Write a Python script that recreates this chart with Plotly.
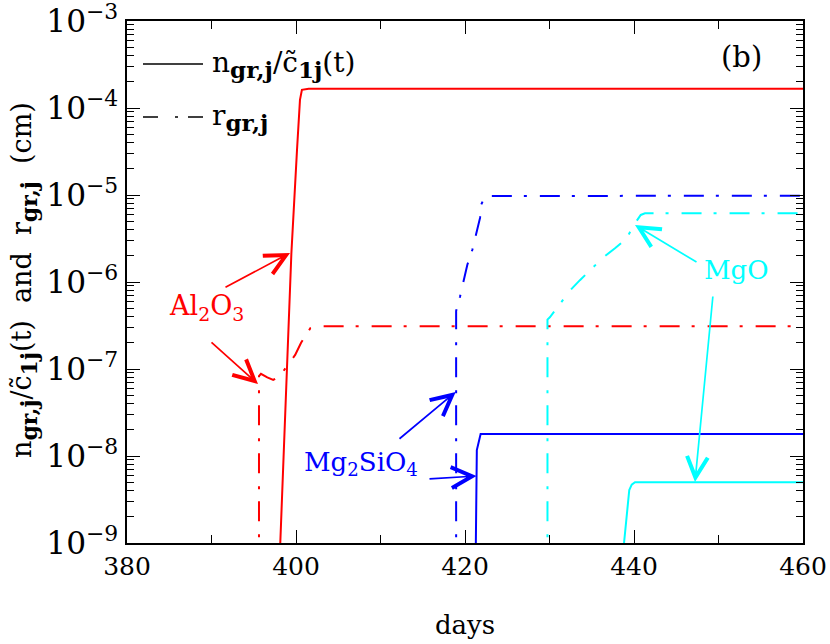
import plotly.graph_objects as go

# ---------------- data ----------------
al_n_days = [398.14, 399.45, 400.12, 400.47, 400.70, 401.5, 460.0]
al_n_vals = [1.0e-9, 2.1e-6, 3.3e-5, 1.24e-4, 1.62e-4, 1.66e-4, 1.66e-4]

al_r_days = [395.62, 395.62, 395.85, 396.6, 397.3, 398.1, 398.9, 399.9, 400.6, 401.7, 402.4, 460.0]
al_r_vals = [5e-10, 8.3e-8, 8.8e-8, 8.0e-8, 7.5e-8, 8.3e-8, 1.07e-7, 1.45e-7, 2.0e-7, 2.95e-7, 3.1e-7, 3.1e-7]

mg2_n_days = [421.25, 421.40, 421.85, 460.0]
mg2_n_vals = [5e-10, 1.17e-8, 1.79e-8, 1.79e-8]

mg2_r_days = [418.95, 418.95, 419.41, 419.88, 420.27, 420.86, 421.38, 421.78, 421.90, 422.37, 460.0]
mg2_r_vals = [5e-10, 4.65e-7, 6.78e-7, 1.11e-6, 1.57e-6, 2.33e-6, 3.66e-6, 5.45e-6, 7.67e-6, 9.75e-6, 9.8e-6]

mgo_n_days = [438.82, 439.44, 439.73, 440.12, 460.0]
mgo_n_vals = [1.0e-9, 4.07e-9, 4.68e-9, 5.0e-9, 5.0e-9]

mgo_r_days = [429.76, 429.76, 430.04, 431.15, 432.5, 433.6, 434.79, 436.37, 437.75, 439.05, 440.12, 440.8, 441.3, 460.0]
mgo_r_vals = [5e-10, 3.7e-7, 3.93e-7, 5.45e-7, 8.13e-7, 1.05e-6, 1.37e-6, 1.92e-6, 2.44e-6, 3.1e-6, 4.73e-6, 5.9e-6, 6.15e-6, 6.15e-6]

x_ticks = [380, 400, 420, 440, 460]

RED, BLUE, CYAN = "#ff0000", "#0000ff", "#00ffff"
FONT = "DejaVu Serif"
DASHDOT = "20px,12px,3px,13px"

fig = go.Figure()
series = [
    (al_n_days, al_n_vals, RED, "solid"),
    (al_r_days, al_r_vals, RED, DASHDOT),
    (mg2_n_days, mg2_n_vals, BLUE, "solid"),
    (mg2_r_days, mg2_r_vals, BLUE, DASHDOT),
    (mgo_n_days, mgo_n_vals, CYAN, "solid"),
    (mgo_r_days, mgo_r_vals, CYAN, DASHDOT),
]
for xs, ys, c, d in series:
    fig.add_trace(go.Scatter(x=xs, y=ys, mode="lines",
                             line=dict(color=c, width=2, dash=d),
                             showlegend=False, hoverinfo="skip"))

# ---------------- layout geometry (page pixels) ----------------
L, R, T, B = 127, 803, 21, 543
W, H = R - L, B - T


def px(x, y):
    return (x - L) / W, (B - y) / H


anns = []
shapes = []


def sub(t, size):
    return "<sub><span style='font-size:%dpx'><b>%s</b></span></sub>" % (size, t)


# legend samples
x0, y0 = px(143, 64)
x1, _ = px(203, 64)
shapes.append(dict(type="line", xref="paper", yref="paper", x0=x0, x1=x1, y0=y0, y1=y0,
                   line=dict(color="black", width=1.5)))
x0, y0 = px(143, 117)
shapes.append(dict(type="line", xref="paper", yref="paper", x0=x0, x1=x1, y0=y0, y1=y0,
                   line=dict(color="black", width=1.5, dash="15px,17px,3px,10px")))

tx, ty = px(210, 64)
anns.append(dict(xref="paper", yref="paper", x=tx, y=ty, xanchor="left", yanchor="middle",
                 text="n" + sub("gr,j", 23) + "/c\u0303" + sub("1j", 23) + "(t)", showarrow=False,
                 font=dict(family=FONT, size=28, color="black")))
tx, ty = px(210, 117)
anns.append(dict(xref="paper", yref="paper", x=tx, y=ty, xanchor="left", yanchor="middle",
                 text="r" + sub("gr,j", 23), showarrow=False,
                 font=dict(family=FONT, size=28, color="black")))

tx, ty = px(741, 57)
anns.append(dict(xref="paper", yref="paper", x=tx, y=ty, xanchor="center", yanchor="middle",
                 text="(b)", showarrow=False, font=dict(family=FONT, size=29, color="black")))


def label(text, cx, cy, color, size):
    x, y = px(cx, cy)
    anns.append(dict(xref="paper", yref="paper", x=x, y=y, xanchor="center", yanchor="middle",
                     text=text, showarrow=False, font=dict(family=FONT, size=size, color=color)))


def arrow(tail, head, color):
    hx, hy = px(*head)
    anns.append(dict(xref="paper", yref="paper", x=hx, y=hy, ax=tail[0] - head[0], ay=tail[1] - head[1],
                     text="", showarrow=True, arrowhead=5, arrowsize=2.4, arrowwidth=1.7,
                     arrowcolor=color, standoff=0, startstandoff=0))


label("Al<sub>2</sub>O<sub>3</sub>", 206, 307, RED, 27)
arrow((224, 288), (290, 253), RED)
arrow((210, 341), (258, 384), RED)

label("Mg<sub>2</sub>SiO<sub>4</sub>", 361, 463, BLUE, 26)
arrow((398, 440), (455.7, 392), BLUE)
arrow((428, 479), (476.5, 476), BLUE)

label("MgO", 736, 270, CYAN, 26)
arrow((698, 263), (635, 225), CYAN)
arrow((713, 295), (695, 482), CYAN)

# y-axis title
tx, ty = px(24, 280)
anns.append(dict(xref="paper", yref="paper", x=tx, y=ty, xanchor="center", yanchor="middle",
                 textangle=-90,
                 text="n" + sub("gr,j", 22) + "/c\u0303" + sub("1j", 22) + "(t)  and  r" + sub("gr,j", 22) + "  (cm)",
                 showarrow=False, font=dict(family=FONT, size=27, color="black")))

axis_common = dict(showline=True, linecolor="black", linewidth=1.5, mirror="ticks",
                   ticks="inside", ticklen=13, tickwidth=1.3, tickcolor="black",
                   showgrid=False, zeroline=False, ticklabeloverflow="allow", automargin=False,
                   tickfont=dict(family=FONT, size=25, color="black"))

fig.update_layout(
    width=830, height=644,
    margin=dict(l=L, r=830 - R, t=T, b=644 - B),
    paper_bgcolor="white", plot_bgcolor="white",
    showlegend=False,
    xaxis=dict(range=[380, 460], tickvals=x_ticks, ticktext=[str(v) for v in x_ticks],
               minor=dict(ticks="inside", ticklen=8, dtick=10, tickcolor="black", tickwidth=1.3),
               title=dict(text="days", font=dict(family=FONT, size=26, color="black"), standoff=36),
               **axis_common),
    yaxis=dict(type="log", range=[-9, -3], dtick=1, exponentformat="power", ticklabelstandoff=2,
               minor=dict(ticks="inside", ticklen=7, dtick="D1", tickcolor="black", tickwidth=1.1),
               **axis_common),
    annotations=anns, shapes=shapes,
)

fig.write_html("out.html", config={"displayModeBar": False},
               post_script="document.body.style.margin='0px';document.body.style.overflow='hidden';")
